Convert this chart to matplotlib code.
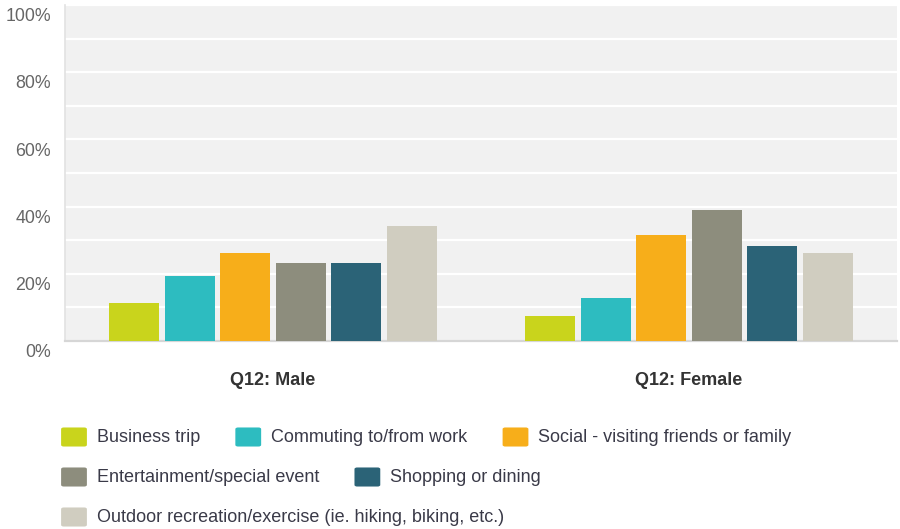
import matplotlib
matplotlib.use("Agg")
import matplotlib.pyplot as plt
import numpy as np
from matplotlib.patches import FancyBboxPatch
from matplotlib.transforms import ScaledTranslation

plt.rcParams['font.family'] = ['Liberation Sans', 'DejaVu Sans']

groups = ["Q12: Male", "Q12: Female"]
series = ["Business trip", "Commuting to/from work", "Social - visiting friends or family",
          "Entertainment/special event", "Shopping or dining",
          "Outdoor recreation/exercise (ie. hiking, biking, etc.)"]
male = [11.4, 19.3, 26.3, 23.2, 23.2, 34.2]
female = [7.3, 12.8, 31.4, 38.9, 28.3, 26.2]
colors = ["#c9d41c", "#2dbcc0", "#f7ae1a", "#8d8d7d", "#2b6377", "#d0cdc0"]
yticks = [0, 20, 40, 60, 80, 100]
ytick_labels = ["0%", "20%", "40%", "60%", "80%", "100%"]

W, H = 900, 529
fig = plt.figure(figsize=(W / 100, H / 100), dpi=100)
ax = fig.add_axes([65 / W, 1 - 341 / H, (897 - 65) / W, (341 - 5) / H])
ax.set_facecolor("#f1f1f1")

x = np.arange(len(groups))
step = 0.1337
width = 0.12
values = np.array([male, female])
for i, (name, col) in enumerate(zip(series, colors)):
    ax.bar(x + (i - 2.5) * step, values[:, i], width=width, color=col, zorder=3)

ax.set_xlim(-0.5, 1.5)
ax.set_ylim(0, 100)
ax.set_yticks(yticks)
ax.set_yticklabels(ytick_labels)
ax.set_yticks(np.arange(0, 101, 10), minor=True)
ax.grid(True, axis="y", which="both", color="white", linewidth=1.6, zorder=1)
ax.set_axisbelow(True)
ax.set_xticks(x)
ax.set_xticklabels(groups, fontsize=13, fontweight="bold", color="#333333")
ax.tick_params(axis="x", length=0, pad=22)
ax.tick_params(axis="y", which="both", length=0, pad=10, labelsize=12.8, labelcolor="#666666")
off = ScaledTranslation(0, -7 / 72, fig.dpi_scale_trans)
for lbl in ax.get_yticklabels():
    lbl.set_transform(lbl.get_transform() + off)

for s in ["top", "right"]:
    ax.spines[s].set_visible(False)
ax.spines["bottom"].set_color("#d6d6d6")
ax.spines["bottom"].set_linewidth(1.6)
ax.spines["left"].set_color("#e2e2e2")
ax.spines["left"].set_linewidth(1.2)

# legend (flow layout)
renderer = fig.canvas.get_renderer()
px = 61
row_y = [437, 477, 517]
row = 0
for name, col in zip(series, colors):
    t = fig.text(0, 0, name, fontsize=13, color="#3a3a48", va="center", ha="left")
    tw = t.get_window_extent(renderer).width
    need = 36 + tw
    if px + need > 860 and px > 61:
        row += 1
        px = 61
    py = row_y[row]
    t.set_position(((px + 36) / W, 1 - py / H))
    sw = FancyBboxPatch(((px + 1) / W, 1 - (py + 9) / H), 24 / W, 18 / H,
                        boxstyle="round,pad=0.001,rounding_size=0.003",
                        transform=fig.transFigure, facecolor=col, edgecolor="none")
    fig.patches.append(sw)
    px = px + need + 35

fig.savefig("out.png", dpi=100, facecolor="white")
